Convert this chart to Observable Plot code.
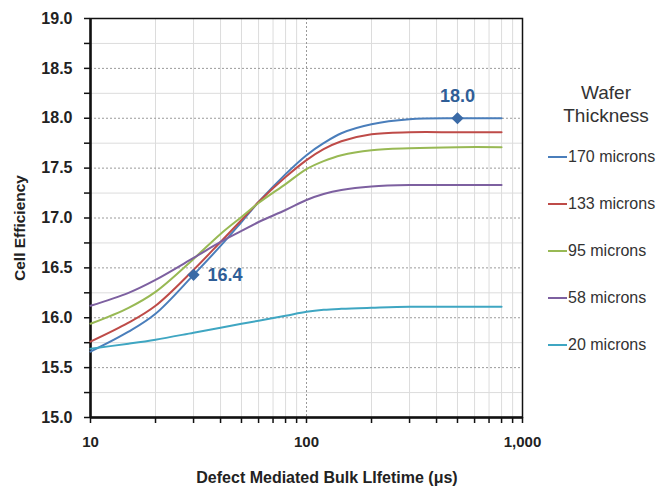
<!DOCTYPE html>
<html>
<head>
<meta charset="utf-8">
<script src="https://cdn.jsdelivr.net/npm/d3@7"></script>
<script src="https://cdn.jsdelivr.net/npm/@observablehq/plot@0.6"></script>
<style>
  html, body { margin: 0; padding: 0; background: #fff; }
  #wrap { position: relative; width: 660px; height: 490px; font-family: "Liberation Sans", Arial, sans-serif; }
  .ttl { position: absolute; font-weight: bold; color: #222; white-space: nowrap; }
  #legend { position: absolute; left: 540px; top: 81px; width: 120px; color: #333; }
  #legend .head { text-align: center; font-size: 19px; line-height: 23px; margin-left: 12px; }
  #legend .item { position: absolute; left: 8px; font-size: 16px; white-space: nowrap; display: flex; align-items: center; }
  #legend .sw { display: inline-block; width: 19px; height: 2px; margin-right: 1px; }
</style>
</head>
<body>
<div id="wrap"></div>
<script>
// ---- data ----
const lifetimes = [10, 15, 20, 30, 40, 50, 60, 80, 100, 120, 145, 200, 300, 500, 800];
const thicknesses = ["170 microns", "133 microns", "95 microns", "58 microns", "20 microns"];
const eff170 = [15.66, 15.86, 16.04, 16.43, 16.72, 16.96, 17.16, 17.44, 17.63, 17.75, 17.85, 17.94, 17.99, 18.0, 18.0];
const eff133 = [15.76, 15.95, 16.12, 16.48, 16.76, 16.98, 17.16, 17.41, 17.58, 17.69, 17.77, 17.84, 17.86, 17.86, 17.86];
const eff95  = [15.94, 16.10, 16.26, 16.59, 16.84, 17.01, 17.15, 17.34, 17.49, 17.57, 17.63, 17.68, 17.70, 17.71, 17.71];
const eff58  = [16.12, 16.25, 16.38, 16.60, 16.76, 16.87, 16.96, 17.08, 17.18, 17.24, 17.28, 17.315, 17.33, 17.33, 17.33];
const eff20  = [15.69, 15.74, 15.78, 15.85, 15.90, 15.94, 15.97, 16.02, 16.06, 16.08, 16.09, 16.10, 16.11, 16.11, 16.11];
const markerX = [30, 500];
const markerY = [16.43, 18.0];
const markerLabels = ["16.4", "18.0"];
const yTicks = [15, 15.25, 15.5, 15.75, 16, 16.25, 16.5, 16.75, 17, 17.25, 17.5, 17.75, 18, 18.25, 18.5, 18.75, 19];
const yLabeled = [15, 15.5, 16, 16.5, 17, 17.5, 18, 18.5, 19];
const yMajor = [15.5, 16, 16.5, 17, 17.5, 18, 18.5];
const yMinor = [15.25, 15.75, 16.25, 16.75, 17.25, 17.75, 18.25, 18.75];
const xTicks = [10, 20, 30, 40, 50, 60, 70, 80, 90, 100, 200, 300, 400, 500, 600, 700, 800, 900, 1000];
const xMinor = [20, 30, 40, 50, 60, 70, 80, 90, 200, 300, 400, 500, 600, 700, 800, 900];
const xMajor = [100];
const xLabeled = [10, 100, 1000];
const yTitle = "Cell Efficiency";
const xTitle = "Defect Mediated Bulk LIfetime (\u03BCs)";
const legendTitle = ["Wafer", "Thickness"];

const seriesValues = [eff170, eff133, eff95, eff58, eff20];
const colors = ["#4A7EBB", "#BE4B48", "#98B954", "#7D60A0", "#3FA6C2"];

const rows = [];
thicknesses.forEach((t, i) => {
  lifetimes.forEach((x, j) => rows.push({series: t, lifetime: x, eff: seriesValues[i][j]}));
});
const markers = markerX.map((x, i) => ({lifetime: x, eff: markerY[i], label: markerLabels[i]}));

const chart = Plot.plot({
  width: 660,
  height: 490,
  marginLeft: 90,
  marginRight: 138,
  marginTop: 18,
  marginBottom: 73,
  style: {fontFamily: "'Liberation Sans', Arial, sans-serif", background: "#fff"},
  x: {type: "log", domain: [10, 1000]},
  y: {domain: [15, 19]},
  color: {domain: thicknesses, range: colors},
  marks: [
    Plot.gridY(yMinor, {stroke: "#dcdcdc", strokeOpacity: 1, strokeWidth: 1}),
    Plot.gridX(xMinor, {stroke: "#dcdcdc", strokeOpacity: 1, strokeWidth: 1}),
    Plot.gridY(yMajor, {stroke: "#9a9a9a", strokeOpacity: 1, strokeWidth: 1, strokeDasharray: "2,2"}),
    Plot.gridX(xMajor, {stroke: "#9a9a9a", strokeOpacity: 1, strokeWidth: 1, strokeDasharray: "2,2"}),
    Plot.frame({stroke: "#111", strokeWidth: 1.5}),
    Plot.axisY({
      ticks: yTicks, tickSize: 6, tickPadding: 12,
      tickFormat: d => yLabeled.includes(d) ? d.toFixed(1) : "",
      fontSize: 16, fontWeight: "bold", stroke: "#111", strokeWidth: 1.5, fill: "#222", label: null
    }),
    Plot.axisX({
      ticks: xTicks, tickSize: 6, tickPadding: 13,
      tickFormat: d => xLabeled.includes(d) ? d3.format(",")(d) : "",
      fontSize: 15, fontWeight: "bold", stroke: "#111", strokeWidth: 1.5, fill: "#222", label: null
    }),
    Plot.ruleX([10], {stroke: "#111", strokeWidth: 2.5}),
    Plot.ruleY([15], {stroke: "#111", strokeWidth: 2.5}),
    Plot.line(rows, {x: "lifetime", y: "eff", stroke: "series", z: "series", strokeWidth: 2, curve: "catmull-rom"}),
    Plot.dot(markers, {x: "lifetime", y: "eff", symbol: "diamond2", r: 5.5, fill: "#3A6AA6", stroke: "none"}),
    Plot.text(markers.filter(d => d.lifetime < 100), {x: "lifetime", y: "eff", text: "label", dx: 14, textAnchor: "start", fontSize: 18, fontWeight: "bold", fill: "#2F5E97"}),
    Plot.text(markers.filter(d => d.lifetime >= 100), {x: "lifetime", y: "eff", text: "label", dy: -22, textAnchor: "middle", fontSize: 18, fontWeight: "bold", fill: "#2F5E97"})
  ]
});

const wrap = document.getElementById("wrap");
wrap.appendChild(chart);

const yT = document.createElement("div");
yT.className = "ttl";
yT.textContent = yTitle;
yT.style.fontSize = "15.5px";
yT.style.left = "20px";
yT.style.top = "228px";
yT.style.transform = "translate(-50%, -50%) rotate(-90deg)";
wrap.appendChild(yT);

const xT = document.createElement("div");
xT.className = "ttl";
xT.textContent = xTitle;
xT.style.fontSize = "16px";
xT.style.left = "327px";
xT.style.top = "478px";
xT.style.transform = "translate(-50%, -50%)";
wrap.appendChild(xT);

const legend = document.createElement("div");
legend.id = "legend";
const head = document.createElement("div");
head.className = "head";
head.innerHTML = legendTitle.join("<br>");
legend.appendChild(head);
thicknesses.forEach((t, i) => {
  const item = document.createElement("div");
  item.className = "item";
  item.style.top = (67 + i * 47) + "px";
  const sw = document.createElement("span");
  sw.className = "sw";
  sw.style.background = colors[i];
  item.appendChild(sw);
  item.appendChild(document.createTextNode(t));
  legend.appendChild(item);
});
wrap.appendChild(legend);
</script>
</body>
</html>
